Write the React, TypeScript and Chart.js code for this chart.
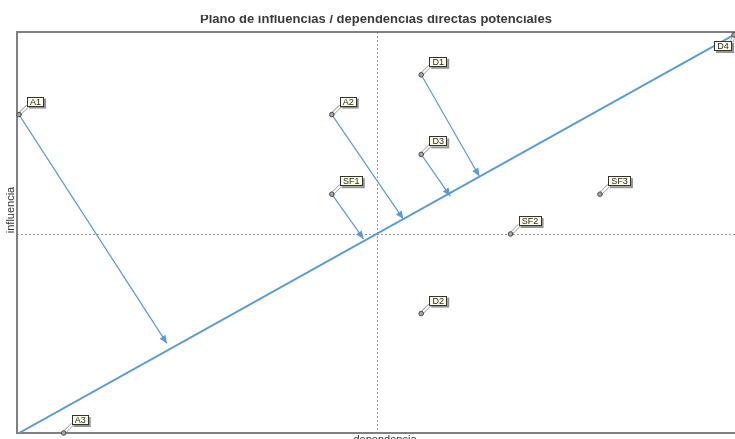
import { useEffect, useRef } from 'react';
import { Chart, registerables } from 'chart.js';

Chart.register(...registerables);

const chartTitle = 'Plano de influencias / dependencias directas potenciales';
const xTitle = 'dependencia';
const yTitle = 'influencia';

const pointLabels = ['A1', 'A2', 'A3', 'D1', 'D2', 'D3', 'D4', 'SF1', 'SF2', 'SF3'];
const dependencia = [0, 7, 1, 9, 9, 9, 16, 7, 11, 13];
const influencia = [8, 8, 0, 9, 3, 7, 10, 6, 5, 6];

const diagonalX = [0, 16];
const diagonalY = [0, 10];
const crossX = 8;
const crossY = 5;

const arrowFrom = ['A1', 'A2', 'D1', 'D3', 'SF1'];
const arrowToX = [3.31, 8.6, 10.3, 9.65, 7.71];
const arrowToY = [2.25, 5.375, 6.45, 5.95, 4.875];

const BLUE = '#5b9bd5';

export default function App() {
  const ref = useRef<HTMLCanvasElement>(null);

  useEffect(() => {
    if (!ref.current) return;

    const overlay = {
      id: 'micmacOverlay',
      beforeDatasetsDraw(chart: any) {
        const { ctx, chartArea: a, scales } = chart;
        const xs = scales.x;
        const ys = scales.y;
        ctx.save();
        // crosshair
        ctx.strokeStyle = '#9a9a9a';
        ctx.lineWidth = 1;
        ctx.setLineDash([2, 2]);
        const cx = Math.round(xs.getPixelForValue(crossX)) + 0.5;
        const cy = Math.round(ys.getPixelForValue(crossY)) + 0.5;
        ctx.beginPath();
        ctx.moveTo(cx, a.top);
        ctx.lineTo(cx, a.bottom);
        ctx.moveTo(a.left, cy);
        ctx.lineTo(a.right, cy);
        ctx.stroke();
        ctx.setLineDash([]);
        // frame
        ctx.strokeStyle = '#808080';
        ctx.lineWidth = 2;
        ctx.beginPath();
        ctx.moveTo(a.right + 5, a.top);
        ctx.lineTo(a.left, a.top);
        ctx.lineTo(a.left, a.bottom);
        ctx.lineTo(a.right + 5, a.bottom);
        ctx.stroke();
        ctx.restore();
      },
      afterDatasetsDraw(chart: any) {
        const { ctx, chartArea: a, scales, width } = chart;
        const xs = scales.x;
        const ys = scales.y;
        ctx.save();

        // arrows
        arrowFrom.forEach((name, i) => {
          const k = pointLabels.indexOf(name);
          const x0 = xs.getPixelForValue(dependencia[k]);
          const y0 = ys.getPixelForValue(influencia[k]);
          const x1 = xs.getPixelForValue(arrowToX[i]);
          const y1 = ys.getPixelForValue(arrowToY[i]);
          ctx.strokeStyle = BLUE;
          ctx.fillStyle = BLUE;
          ctx.lineWidth = 1.2;
          ctx.beginPath();
          ctx.moveTo(x0, y0);
          ctx.lineTo(x1, y1);
          ctx.stroke();
          const ang = Math.atan2(y1 - y0, x1 - x0);
          const L = 8;
          const W = 3.5;
          const bx = x1 - L * Math.cos(ang);
          const by = y1 - L * Math.sin(ang);
          ctx.beginPath();
          ctx.moveTo(x1, y1);
          ctx.lineTo(bx + W * Math.sin(ang), by - W * Math.cos(ang));
          ctx.lineTo(bx - W * Math.sin(ang), by + W * Math.cos(ang));
          ctx.closePath();
          ctx.fill();
        });

        // labels
        ctx.font = '9px "Liberation Sans", Arial, sans-serif';
        ctx.textBaseline = 'middle';
        ctx.textAlign = 'center';
        pointLabels.forEach((name, i) => {
          const px = xs.getPixelForValue(dependencia[i]);
          const py = ys.getPixelForValue(influencia[i]);
          const tw = ctx.measureText(name).width;
          const bw = Math.round(tw + 6);
          const bh = 10;
          let bx = px + 8;
          let by = py - 8 - bh;
          let cornerX = bx;
          let cornerY = by + bh;
          if (bx + bw + 2 > width) {
            bx = px - 8 - bw + 6;
            cornerX = bx + bw;
          }
          if (by < a.top) {
            by = py + 6;
            cornerY = by;
          }
          // leader
          ctx.lineCap = 'round';
          ctx.strokeStyle = '#9a9a9a';
          ctx.lineWidth = 3.5;
          ctx.beginPath();
          ctx.moveTo(px, py);
          ctx.lineTo(cornerX, cornerY);
          ctx.stroke();
          ctx.strokeStyle = '#ffffff';
          ctx.lineWidth = 2;
          ctx.beginPath();
          ctx.moveTo(px, py);
          ctx.lineTo(cornerX, cornerY);
          ctx.stroke();
          // marker
          ctx.fillStyle = '#a8a8a8';
          ctx.strokeStyle = '#4a4a4a';
          ctx.lineWidth = 1;
          ctx.beginPath();
          ctx.arc(px, py, 2.3, 0, Math.PI * 2);
          ctx.fill();
          ctx.stroke();
          // shadow
          ctx.fillStyle = 'rgba(60,60,60,0.55)';
          ctx.fillRect(bx + 2, by + 2, bw, bh);
          // box
          ctx.fillStyle = '#fffde6';
          ctx.fillRect(bx, by, bw, bh);
          ctx.strokeStyle = '#333333';
          ctx.lineWidth = 1;
          ctx.strokeRect(Math.round(bx) + 0.5, Math.round(by) + 0.5, bw - 1, bh - 1);
          ctx.fillStyle = '#2a2a2a';
          ctx.fillText(name, bx + bw / 2, by + bh / 2 + 0.5);
        });

        // axis titles
        ctx.fillStyle = '#333333';
        ctx.font = '11px "Liberation Sans", Arial, sans-serif';
        ctx.textAlign = 'center';
        ctx.textBaseline = 'top';
        ctx.fillText(xTitle, 385, 434);
        ctx.save();
        ctx.translate(11, 210);
        ctx.rotate(-Math.PI / 2);
        ctx.textBaseline = 'middle';
        ctx.fillText(yTitle, 0, 0);
        ctx.restore();

        // chart title (top clipped like the reference)
        ctx.save();
        ctx.beginPath();
        ctx.rect(0, 15, width, 20);
        ctx.clip();
        ctx.font = 'bold 13px "Liberation Sans", Arial, sans-serif';
        ctx.textBaseline = 'alphabetic';
        ctx.fillStyle = '#3a3a3a';
        ctx.fillText(chartTitle, (a.left + a.right) / 2, 23);
        ctx.restore();

        ctx.restore();
      },
    };

    const chart = new Chart(ref.current, {
      type: 'scatter',
      data: {
        datasets: [
          {
            data: diagonalX.map((x, i) => ({ x, y: diagonalY[i] })),
            showLine: true,
            borderColor: BLUE,
            borderWidth: 2,
            pointRadius: 0,
          },
        ],
      },
      options: {
        responsive: false,
        animation: false,
        layout: { padding: { left: 17, top: 32, right: 0, bottom: 6 } },
        scales: {
          x: { type: 'linear', min: -0.045, max: 16.022, display: false },
          y: { type: 'linear', min: 0, max: 10.075, display: false },
        },
        plugins: { legend: { display: false }, tooltip: { enabled: false } },
      },
      plugins: [overlay],
    });
    return () => chart.destroy();
  }, []);

  return (
    <div style={{ position: 'fixed', left: 0, top: 0, width: 735, height: 439, background: '#fff' }}>
      <canvas ref={ref} width={735} height={439} style={{ display: 'block' }} />
    </div>
  );
}
